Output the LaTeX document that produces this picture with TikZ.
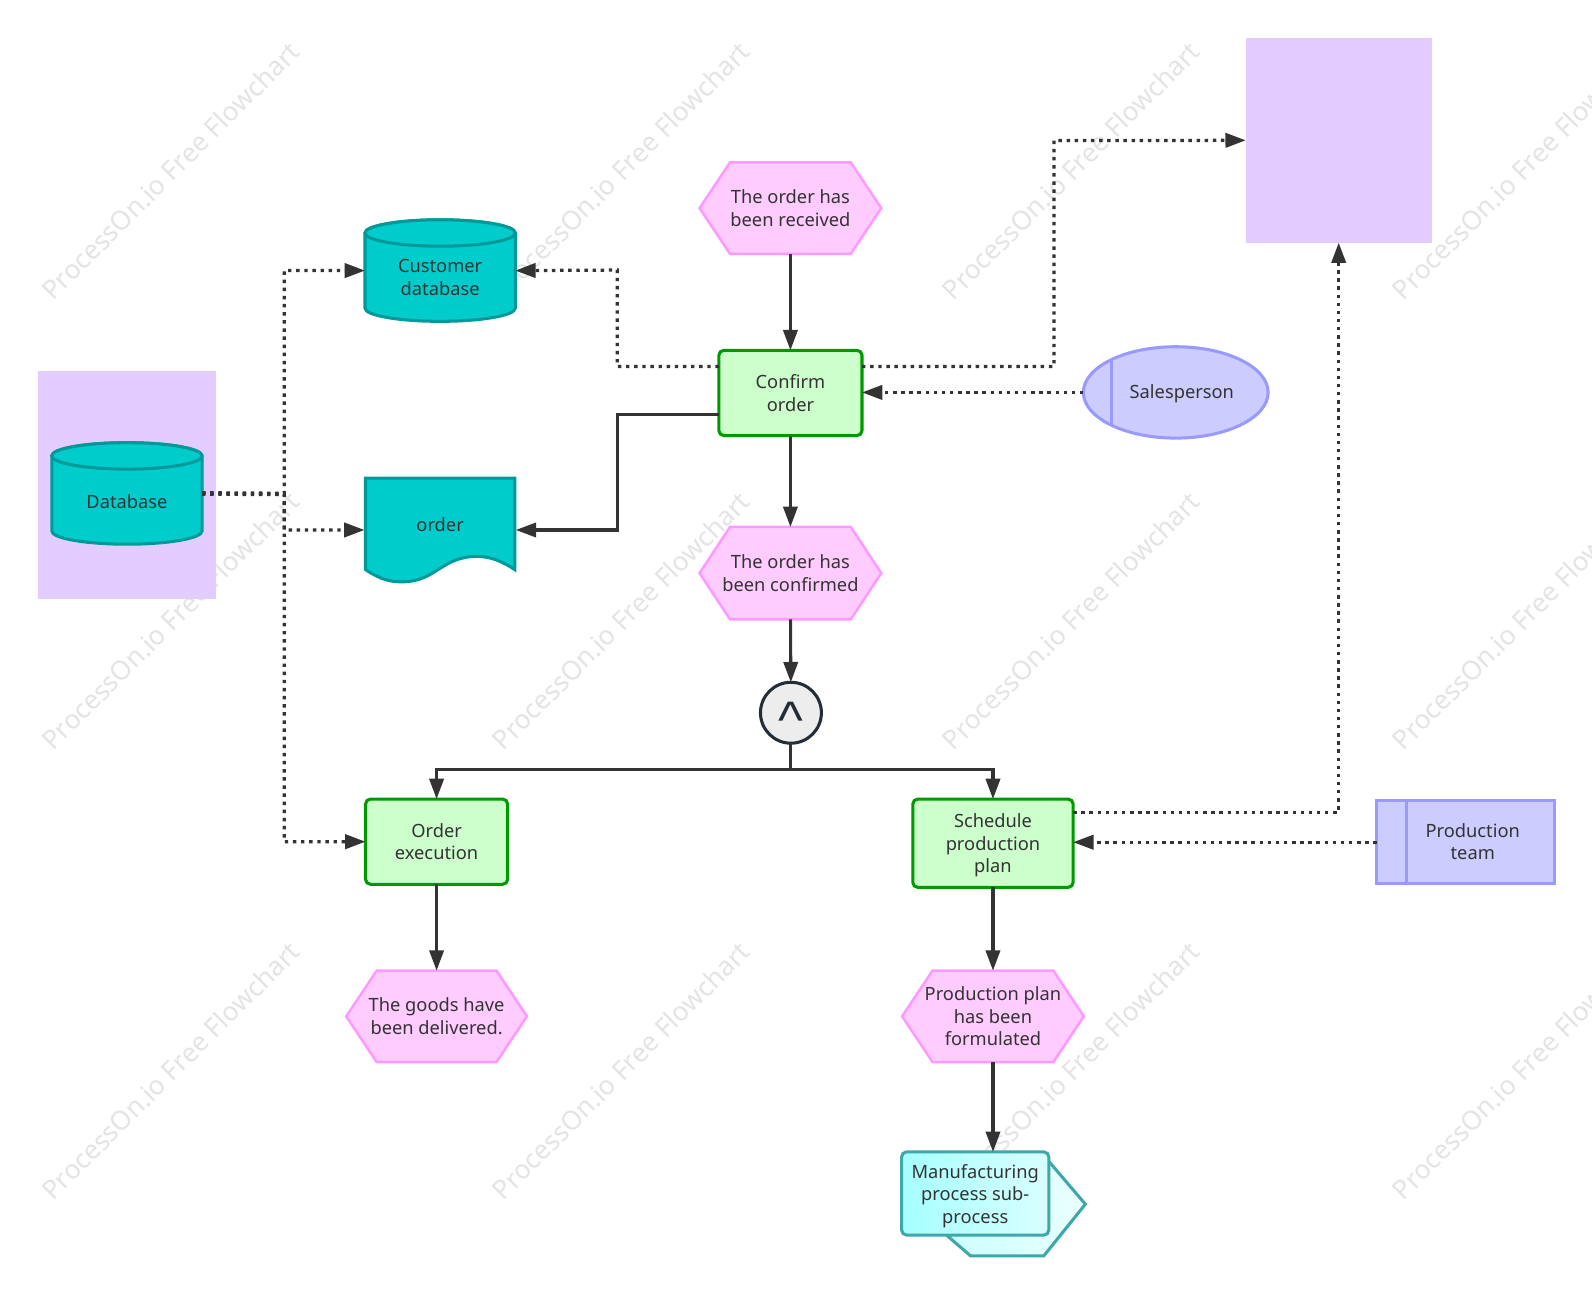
\documentclass[tikz,border=0pt]{standalone}
\usepackage{fontspec}
\usepackage{graphicx}
\setmainfont{Noto Sans}
\newfontfamily\symfont{Liberation Sans}
\usetikzlibrary{arrows.meta,calc,shapes.geometric}
\definecolor{lav}{HTML}{E3CCFF}
\definecolor{ink}{HTML}{333333}
\definecolor{wm}{HTML}{E4E4E4}
\definecolor{evfill}{HTML}{FFCCFF}
\definecolor{evline}{HTML}{FF99FF}
\definecolor{fnfill}{HTML}{CCFFCC}
\definecolor{fnline}{HTML}{009900}
\definecolor{dbfill}{HTML}{00CCCC}
\definecolor{dbline}{HTML}{009999}
\definecolor{orgfill}{HTML}{CCCCFF}
\definecolor{orgline}{HTML}{9999FF}
\definecolor{subline}{HTML}{3EA8A8}
\definecolor{opline}{HTML}{232D38}
\tikzset{
  txt/.style={font=\fontsize{18}{22.4}\selectfont,text=ink,align=center,inner sep=0pt},
  anchorbox/.style={minimum width=#1,inner sep=0pt,outer sep=0pt,txt},
  evshape/.style={fill=evfill,draw=evline,line width=2.5pt,line join=miter},
  dbshape/.style={fill=dbfill,draw=dbline,line width=3pt},
  fnbox/.style={txt,fill=fnfill,draw=fnline,line width=3pt,rounded corners=5pt,outer sep=0pt},
  orgshape/.style={fill=orgfill,draw=orgline,line width=3pt,outer sep=0pt,inner sep=0pt},
  lavbox/.style={fill=lav,draw=none,inner sep=0pt,outer sep=0pt},
  solidflow/.style={draw=ink,line width=3pt,-{Triangle[length=20pt,width=14pt]}},
  dotflow/.style={draw=ink,line width=3.2pt,dash pattern=on 3.4pt off 4.6pt,-{Triangle[length=20pt,width=14pt]}},
  plainflow/.style={draw=ink,line width=3pt},
  watermark/.style={font=\fontsize{26}{26}\selectfont,text=wm,rotate=45,inner sep=0pt}
}
% name, cx, cy, w, h, text
\newcommand\hexnode[6]{%
  \draw[evshape] ({#2-#4/2},#3) -- ({#2-#4/2+30},{#3-#5/2}) -- ({#2+#4/2-30},{#3-#5/2}) -- ({#2+#4/2},#3) -- ({#2+#4/2-30},{#3+#5/2}) -- ({#2-#4/2+30},{#3+#5/2}) -- cycle;
  \node[anchorbox=#4 pt,minimum height=#5 pt] (#1) at (#2,#3) {#6};
}
% name, cx, cy, text, text shift
\newcommand\cylnode[5]{%
  \path[dbshape] ({#2-74},{#3-37}) -- ({#2-74},{#3+37}) arc[start angle=180,end angle=360,x radius=74pt,y radius=13pt] -- ({#2+74},{#3-37}) arc[start angle=0,end angle=180,x radius=74pt,y radius=13pt] -- cycle;
  \draw[dbshape] (#2,{#3-37}) ellipse[x radius=74pt,y radius=13pt];
  \node[anchorbox=148pt,minimum height=104pt,label={[txt,yshift=#5]center:{#4}}] (#1) at (#2,#3) {};
}
\begin{document}
\begin{tikzpicture}[x=1pt,y=-1pt]
\useasboundingbox (0,0) rectangle (1568,1273.5);
\fill[white] (0,0) rectangle (1568,1273.5);
% watermark
\foreach \i in {0,1,2,3}{\foreach \j in {0,1,2}{
  \node[watermark] (wm\i\j) at ({168+443.3*\i},{168+443.3*\j}) {ProcessOn.io Free Flowchart};
}}
% swimlane-like rectangles
\node[lavbox,minimum width=183pt,minimum height=201.6pt] (system) at (1318.5,138.2) {};
\node[lavbox,minimum width=175.6pt,minimum height=224.6pt] (dbzone) at (125.2,477.7) {};
% events
\hexnode{received}{778.5}{205}{179}{90}{The order has\\been received}
\hexnode{confirmed}{778.5}{564.5}{179}{91}{The order has\\been confirmed}
\hexnode{delivered}{430}{1001}{178}{90}{The goods have\\been delivered.}
\hexnode{formulated}{978}{1001}{179}{90}{Production plan\\has been\\formulated}
% functions
\node[fnbox,minimum width=141pt,minimum height=84pt] (confirm) at (778.5,387) {Confirm\\order};
\node[fnbox,minimum width=140pt,minimum height=84pt] (execution) at (430,829) {Order\\execution};
\node[fnbox,minimum width=158pt,minimum height=87pt,label={[txt,yshift=-2pt]center:{Schedule\\production\\plan}}] (schedule) at (978,830.5) {};
% data
\cylnode{customer}{433.5}{266.5}{Customer\\database}{-6.5pt}
\cylnode{database}{125}{486}{Database}{-8pt}
\draw[dbshape,line join=miter] (360,471) -- (507,471) -- (507,561) .. controls (495,553) and (483,548) .. (470,548) .. controls (435,548) and (430,572) .. (398,573) .. controls (385,573.5) and (375,571) .. (360,561) -- cycle;
\node[anchorbox=149pt,minimum height=104pt,label={[txt,yshift=5pt]center:order}] (order) at (433.5,522) {};
% organisation units
\node[ellipse,orgshape,minimum width=182pt,minimum height=90pt,label={[txt,xshift=6pt,yshift=-1.5pt]center:Salesperson}] (sales) at (1158,386.5) {};
\draw[draw=orgline,line width=3pt] (1095,354) -- (1095,419);
\node[orgshape,rectangle,minimum width=175pt,minimum height=82pt,label={[txt,xshift=7pt,yshift=0.5pt]center:{Production\\team}}] (team) at (1443.5,829.5) {};
\draw[draw=orgline,line width=3pt] (1385,788.5) -- (1385,870.5);
% operator
\node[circle,fill=black!7,draw=opline,line width=3pt,minimum size=60pt,inner sep=0pt,outer sep=0pt,text=opline,font=\symfont\fontsize{52}{52}\selectfont] (andop) at (779,702) {\raisebox{-25pt}[0pt][0pt]{\^{}}};
% sub-process
\draw[left color=cyan!20,right color=cyan!8,draw=subline,line width=3pt,line join=miter] (1034,1145) -- (1069,1186) -- (1028,1237) -- (956,1237) -- (934,1218) -- cycle;
\node[left color=cyan!35,right color=cyan!15,draw=subline,line width=3pt,rounded corners=5pt,outer sep=0pt,inner sep=0pt,minimum width=145pt,minimum height=82pt,label={[txt,yshift=-2.5pt]center:{Manufacturing\\process sub-\\process}}] (subproc) at (960.5,1175.5) {};
% helper points
\coordinate (hub) at (280,486.5);
\coordinate (split) at (779,758);
% solid connectors
\draw[solidflow] (received) -- (received |- confirm.north);
\draw[solidflow] (confirm) -- (confirm |- confirmed.north);
\draw[solidflow] (confirmed) -- (andop);
\draw[solidflow] ($(confirm.north west)+(0,63)$) -| (608,522) -- (order.east);
\draw[plainflow] (andop) -- (split);
\draw[solidflow] (split) -| (execution.north);
\draw[solidflow] (split) -| (schedule.north);
\draw[solidflow] (execution) -- (delivered);
\draw[solidflow] (schedule) -- (formulated);
\draw[solidflow] (formulated) -- (formulated |- subproc.north);
% dotted connectors
\draw[dotflow] ($(confirm.north west)+(0,16)$) -| (608,266) -- (customer.east);
\draw[dotflow] ($(confirm.north east)+(0,16)$) -| (1038,138.5) -- (system.west);
\draw[dotflow] (sales.west) -- (sales.west -| confirm.east);
\draw[dotflow] ($(database.east)+(0,-0.7)$) -- ($(hub)+(0,-0.7)$) |- (customer.west);
\draw[dotflow] ($(database.east)+(0,0.7)$) -- ($(hub)+(0,0.7)$) |- (order.west);
\draw[dotflow] (database.east) -- (hub) |- (execution.west);
\draw[dotflow] ($(schedule.north east)+(0,13)$) -| (system.south);
\draw[dotflow] (team.west) -- (team.west -| schedule.east);
\end{tikzpicture}
\end{document}
